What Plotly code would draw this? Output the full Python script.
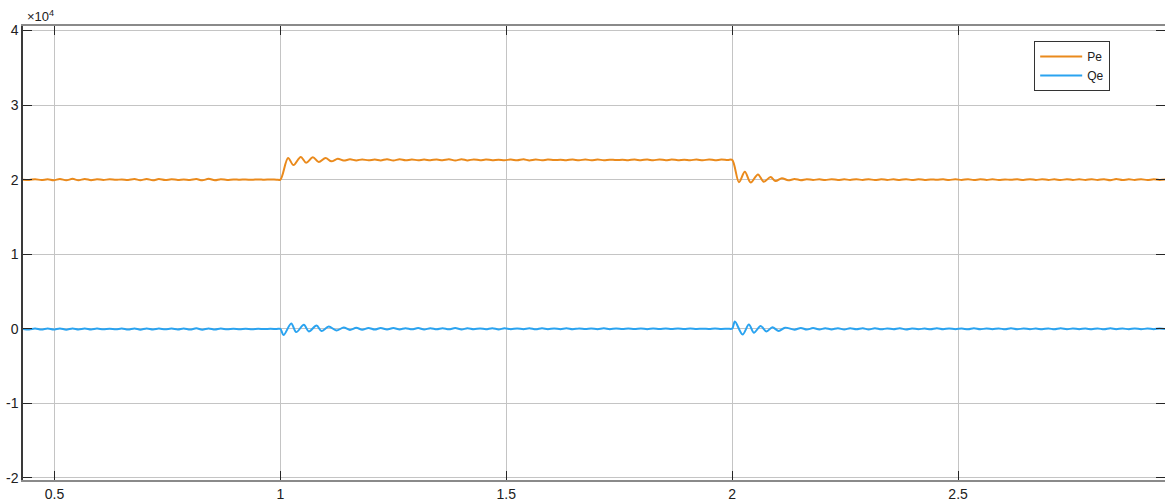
import plotly.graph_objects as go

# ---------------- data ----------------
# segment A: steady state before the step (peaks/troughs of the ripple)
t_A = [0.430, 0.444, 0.457, 0.471, 0.485, 0.498, 0.512, 0.526, 0.540, 0.553,
       0.567, 0.581, 0.594, 0.608, 0.622, 0.636, 0.649, 0.663, 0.677, 0.690,
       0.704, 0.718, 0.731, 0.745, 0.759, 0.773, 0.786, 0.800, 0.814, 0.827,
       0.841, 0.855, 0.868, 0.882, 0.896, 0.910, 0.923, 0.937, 0.951, 0.964,
       0.978, 0.992]
pe_A = [20000, 19950, 20060, 19940, 20050, 19920, 20090, 19900, 20100, 19910,
        20080, 19930, 20050, 19960, 20040, 19970, 20030, 19950, 20080, 19920,
        20090, 19910, 20070, 19940, 20050, 19960, 20030, 19950, 20080, 19900,
        20100, 19920, 20060, 19950, 20030, 19980, 20020, 19970, 20030, 19980,
        20020, 19990]
qe_A = [-20, -90, 40, -110, 30, -100, 50, -120, 40, -90,
        30, -100, 20, -80, 10, -70, 30, -110, 50, -120,
        40, -100, 20, -80, 30, -90, 40, -110, 60, -120,
        50, -100, 30, -80, 10, -60, 10, -50, 0, -40,
        0, -30]

# transient at t = 1 s
t_P1 = [1.000, 1.017, 1.029, 1.045, 1.057, 1.072, 1.085, 1.100, 1.113, 1.127, 1.140]
pe_P1 = [20000, 22900, 21950, 23050, 22250, 23000, 22350, 22900, 22450, 22800, 22550]
t_Q1 = [1.000, 1.007, 1.024, 1.035, 1.052, 1.063, 1.080, 1.091, 1.107, 1.124, 1.140]
qe_Q1 = [-20, -850, 700, -450, 530, -360, 440, -300, 300, -230, 160]

# segment B: steady state between the steps
t_B = [1.154, 1.168, 1.181, 1.195, 1.209, 1.222, 1.236, 1.250, 1.264, 1.277,
       1.291, 1.305, 1.318, 1.332, 1.346, 1.359, 1.373, 1.387, 1.401, 1.414,
       1.428, 1.442, 1.455, 1.469, 1.483, 1.496, 1.510, 1.524, 1.538, 1.551,
       1.565, 1.579, 1.592, 1.606, 1.620, 1.633, 1.647, 1.661, 1.675, 1.688,
       1.702, 1.716, 1.729, 1.743, 1.757, 1.770, 1.784, 1.798, 1.812, 1.825,
       1.839, 1.853, 1.866, 1.880, 1.894, 1.907, 1.921, 1.935, 1.949, 1.962,
       1.976, 1.990]
pe_B = [22720, 22580, 22710, 22590, 22700, 22580, 22730, 22570, 22720, 22590,
        22700, 22600, 22690, 22600, 22700, 22590, 22720, 22570, 22730, 22580,
        22710, 22600, 22690, 22610, 22680, 22600, 22700, 22590, 22720, 22580,
        22700, 22600, 22690, 22620, 22670, 22610, 22690, 22590, 22710, 22590,
        22700, 22600, 22680, 22620, 22670, 22610, 22690, 22600, 22700, 22590,
        22710, 22600, 22690, 22610, 22680, 22600, 22700, 22590, 22710, 22600,
        22690, 22630]
qe_B = [-150, 130, -120, 110, -110, 100, -100, 90, -90, 80,
        -80, 90, -100, 80, -70, 60, -80, 90, -100, 70,
        -60, 50, -70, 80, -90, 70, -60, 50, -60, 70,
        -80, 60, -50, 40, -60, 70, -70, 50, -40, 30,
        -50, 60, -60, 40, -30, 20, -40, 50, -50, 40,
        -30, 20, -30, 40, -40, 30, -20, 10, -20, 30,
        -20, 10]

# transient at t = 2 s
t_P2 = [2.000, 2.015, 2.028, 2.041, 2.057, 2.070, 2.085, 2.096, 2.110, 2.124]
pe_P2 = [22650, 19650, 21050, 19600, 20700, 19700, 20350, 19800, 20200, 19900]
t_Q2 = [2.000, 2.006, 2.023, 2.037, 2.048, 2.063, 2.076, 2.089, 2.103, 2.117]
qe_Q2 = [10, 970, -760, 570, -530, 360, -360, 200, -300, 150]

# segment C: steady state after the second step
t_C = [2.138, 2.152, 2.165, 2.179, 2.193, 2.206, 2.220, 2.234, 2.248, 2.261,
       2.275, 2.289, 2.302, 2.316, 2.330, 2.343, 2.357, 2.371, 2.385, 2.398,
       2.412, 2.426, 2.439, 2.453, 2.467, 2.480, 2.494, 2.508, 2.522, 2.535,
       2.549, 2.563, 2.576, 2.590, 2.604, 2.617, 2.631, 2.645, 2.659, 2.672,
       2.686, 2.700, 2.713, 2.727, 2.741, 2.754, 2.768, 2.782, 2.796, 2.809,
       2.823, 2.837, 2.850, 2.864, 2.878, 2.891, 2.905, 2.919, 2.933, 2.946,
       2.960]
pe_C = [20080, 19930, 20060, 19950, 20050, 19940, 20060, 19950, 20040, 19960,
        20050, 19950, 20060, 19940, 20050, 19960, 20040, 19950, 20060, 19940,
        20050, 19960, 20030, 19970, 20040, 19950, 20050, 19950, 20060, 19940,
        20050, 19960, 20040, 19960, 20030, 19970, 20040, 19950, 20060, 19950,
        20050, 19960, 20040, 19950, 20050, 19960, 20040, 19960, 20050, 19950,
        20060, 19930, 20070, 19940, 20050, 19950, 20060, 19940, 20050, 19960,
        20030]
qe_C = [-120, 100, -110, 90, -100, 70, -90, 80, -100, 60,
        -80, 60, -90, 70, -80, 50, -70, 60, -90, 50,
        -70, 40, -80, 60, -70, 50, -60, 40, -80, 60,
        -70, 40, -60, 50, -80, 60, -70, 40, -60, 30,
        -70, 50, -80, 60, -70, 40, -50, 30, -70, 50,
        -80, 60, -60, 40, -70, 50, -60, 30, -50, 40,
        -40]

y_ticks = [-20000, -10000, 0, 10000, 20000, 30000, 40000]
y_ticklabels = ["-2", "-1", "0", "1", "2", "3", "4"]
x_ticks = [0.5, 1, 1.5, 2, 2.5]
x_ticklabels = ["0.5", "1", "1.5", "2", "2.5"]

# ---------------- assemble series ----------------
t_pe = t_A + t_P1 + t_B + t_P2 + t_C
v_pe = pe_A + pe_P1 + pe_B + pe_P2 + pe_C
t_qe = t_A + t_Q1 + t_B + t_Q2 + t_C
v_qe = qe_A + qe_Q1 + qe_B + qe_Q2 + qe_C

PE_COLOR = "#EA8A1C"
QE_COLOR = "#2AA3F0"
FONT = "Liberation Sans, Arial, Helvetica, sans-serif"

fig = go.Figure()
fig.add_trace(go.Scatter(x=t_pe, y=v_pe, mode="lines", name="Pe",
                         line=dict(color=PE_COLOR, width=2, shape="spline", smoothing=0.9)))
fig.add_trace(go.Scatter(x=t_qe, y=v_qe, mode="lines", name="Qe",
                         line=dict(color=QE_COLOR, width=2, shape="spline", smoothing=0.9)))

axis_common = dict(
    showgrid=True, gridcolor="#C4C4C4", gridwidth=1,
    zeroline=False, showline=True, mirror="ticks", automargin=False,
    ticks="inside", ticklen=9, tickcolor="#262626", tickwidth=1,
    tickfont=dict(family=FONT, size=14, color="#202020"),
)

fig.update_layout(
    width=1165, height=502,
    margin=dict(l=23, r=0, t=26, b=22, autoexpand=False),
    paper_bgcolor="white", plot_bgcolor="white",
    font=dict(family=FONT, size=13, color="#202020"),
    xaxis=dict(range=[0.4303, 2.958], tickvals=x_ticks, ticktext=x_ticklabels,
               linecolor="#8A8A8A", linewidth=2, **axis_common),
    yaxis=dict(range=[-20280, 40600], tickvals=y_ticks, ticktext=y_ticklabels,
               linecolor="#3A3A3A", linewidth=1.5, **axis_common),
    showlegend=True,
    legend=dict(x=0.952, y=0.967, xanchor="right", yanchor="top",
                bgcolor="white", bordercolor="#333333", borderwidth=1,
                font=dict(family=FONT, size=12, color="#202020"),
                tracegroupgap=0, itemwidth=42),
    annotations=[dict(text="\u00d710<sup>4</sup>", xref="paper", yref="paper",
                      x=0.002, y=1.0, xanchor="left", yanchor="bottom", yshift=0,
                      showarrow=False, font=dict(family=FONT, size=13, color="#202020"))],
)

fig.write_html("out.html", config={"displayModeBar": False},
               post_script="document.body.style.margin='0';document.body.style.overflow='hidden';")
